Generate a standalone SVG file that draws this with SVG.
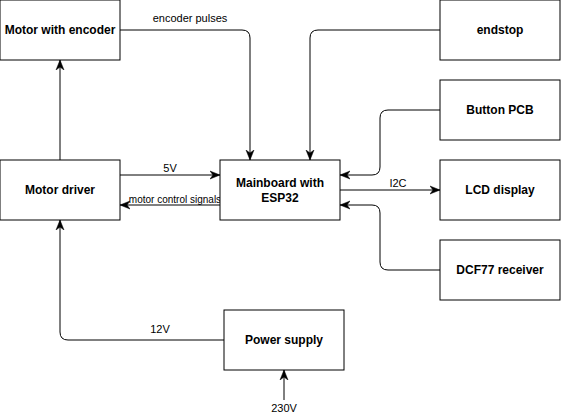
<svg xmlns="http://www.w3.org/2000/svg" width="562" height="418" viewBox="0 0 562 418">
<style>
.node rect{fill:#fff;stroke:#000;stroke-width:1}
.node text{font-family:"Liberation Sans",Arial,sans-serif;font-size:12px;font-weight:bold;fill:#000;text-anchor:middle;dominant-baseline:central}
.edge{fill:none;stroke:#000;stroke-width:1;marker-end:url(#arr)}
.lbl{font-family:"Liberation Sans",Arial,sans-serif;font-size:11px;fill:#000;text-anchor:middle;dominant-baseline:central}
</style>
<defs>
<marker id="arr" viewBox="0 0 10 10" refX="10" refY="5" markerWidth="10" markerHeight="10" markerUnits="userSpaceOnUse" orient="auto">
<path d="M0,1 L10,5 L0,9 L3,5 Z" fill="#000" stroke="#000" stroke-width="0.5"/>
</marker>
</defs>
<rect width="562" height="418" fill="#fff"/>
<g id="connectors">
<path class="edge" d="M120,30 H242 Q250,30 250,38 V160"/>
<path class="edge" d="M440,30 H318 Q310,30 310,38 V160"/>
<path class="edge" d="M440,110 H388 Q380,110 380,118 V167 Q380,175 372,175 H340"/>
<path class="edge" d="M440,270 H388 Q380,270 380,262 V213 Q380,205 372,205 H340"/>
<path class="edge" d="M340,190 H440"/>
<path class="edge" d="M120,175 H220"/>
<path class="edge" d="M220,205 H120"/>
<path class="edge" d="M60,160 V60"/>
<path class="edge" d="M224,340 H68 Q60,340 60,332 V220"/>
<path class="edge" d="M284,400 V370"/>
<text class="lbl" x="190" y="18">encoder pulses</text>
<text class="lbl" x="170" y="168">5V</text>
<text class="lbl" x="175" y="199" style="font-size:10px">motor control signals</text>
<text class="lbl" x="398" y="183">I2C</text>
<text class="lbl" x="160" y="329">12V</text>
<text class="lbl" x="284" y="408">230V</text>
</g>
<g id="motor-encoder" class="node"><rect x="0" y="0" width="120" height="60"/><text x="60" y="30">Motor with encoder</text></g>
<g id="endstop" class="node"><rect x="440" y="0" width="120" height="60"/><text x="500" y="30">endstop</text></g>
<g id="button-pcb" class="node"><rect x="440" y="80" width="120" height="60"/><text x="500" y="110">Button PCB</text></g>
<g id="motor-driver" class="node"><rect x="0" y="160" width="120" height="60"/><text x="60" y="190">Motor driver</text></g>
<g id="mainboard" class="node"><rect x="220" y="160" width="120" height="60"/><text x="280" y="183">Mainboard with</text><text x="280" y="198">ESP32</text></g>
<g id="lcd" class="node"><rect x="440" y="160" width="120" height="60"/><text x="500" y="190">LCD display</text></g>
<g id="dcf77" class="node"><rect x="440" y="240" width="120" height="60"/><text x="500" y="270">DCF77 receiver</text></g>
<g id="power" class="node"><rect x="224" y="310" width="120" height="60"/><text x="284" y="340">Power supply</text></g>
</svg>
